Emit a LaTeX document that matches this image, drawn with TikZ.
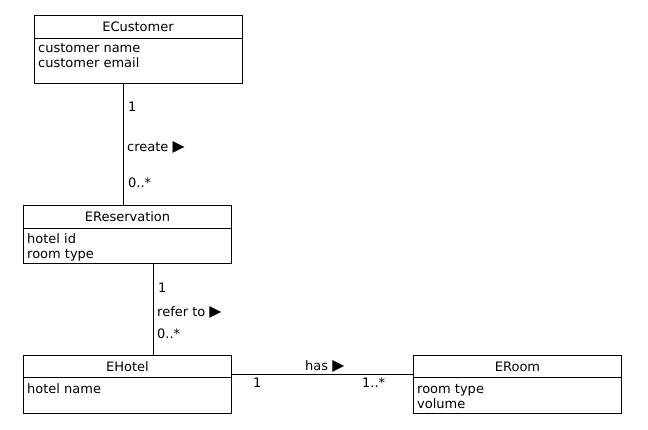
\documentclass[tikz,border=0pt]{standalone}
\usepackage{fontspec}
\setmainfont{DejaVu Sans}
\newcommand{\rtri}{\scalebox{1.2}{▶}}
\begin{document}
\begin{tikzpicture}[x=1pt,y=-1pt,
  font=\fontsize{13}{15}\selectfont,
  cls/.style={draw, line width=1pt, anchor=north west, inner sep=0pt, minimum width=208pt},
  ttl/.style={anchor=base, inner sep=0pt},
  attr/.style={anchor=base west, inner sep=0pt},
  lbl/.style={anchor=base west, inner sep=0pt},
  divider/.style={line width=1pt},
  assoc/.style={line width=1pt}]
\useasboundingbox (0,0) rectangle (648,429);

% ECustomer
\node[cls, minimum height=68pt] (cust) at (34,14.5) {};
\node[ttl] (custT) at (138,31.5) {ECustomer};
\draw[divider] (cust.west |- 0,38) -- (cust.east |- 0,38);
\node[attr] (custA) at (38,52) {customer name};
\node[attr] (custB) at (38,67) {customer email};

% EReservation
\node[cls, minimum height=58.5pt] (resv) at (23,204.5) {};
\node[ttl] (resvT) at (127.5,221) {EReservation};
\draw[divider] (resv.west |- 0,228) -- (resv.east |- 0,228);
\node[attr] (resvA) at (27,243) {hotel id};
\node[attr] (resvB) at (27,258) {room type};

% EHotel
\node[cls, minimum height=58pt] (hotel) at (23,354.5) {};
\node[ttl] (hotelT) at (127.5,371) {EHotel};
\draw[divider] (hotel.west |- 0,377.5) -- (hotel.east |- 0,377.5);
\node[attr] (hotelA) at (27,393) {hotel name};

% ERoom
\node[cls, minimum height=58pt] (room) at (413,354.5) {};
\node[ttl] (roomT) at (517.5,371) {ERoom};
\draw[divider] (room.west |- 0,377.5) -- (room.east |- 0,377.5);
\node[attr] (roomA) at (417,393) {room type};
\node[attr] (roomB) at (417,408) {volume};

% ECustomer -- EReservation
\draw[assoc] (cust.south -| 123.5,0) -- (resv.north -| 123.5,0);
\node[lbl] (m1) at (128,111) {1};
\node[lbl] (n1) at (127,151) {create \rtri};
\node[lbl] (k1) at (128,187) {0..*};

% EReservation -- EHotel
\draw[assoc] (resv.south -| 153.5,0) -- (hotel.north -| 153.5,0);
\node[lbl] (m2) at (158,292) {1};
\node[lbl] (n2) at (157,316) {refer to \rtri};
\node[lbl] (k2) at (157,338) {0..*};

% EHotel -- ERoom
\draw[assoc] (hotel.east |- 0,374.5) -- (room.west |- 0,374.5);
\node[lbl] (n3) at (305,370) {has \rtri};
\node[lbl] (m3) at (253,387) {1};
\node[lbl] (k3) at (362,387) {1..*};
\end{tikzpicture}
\end{document}
